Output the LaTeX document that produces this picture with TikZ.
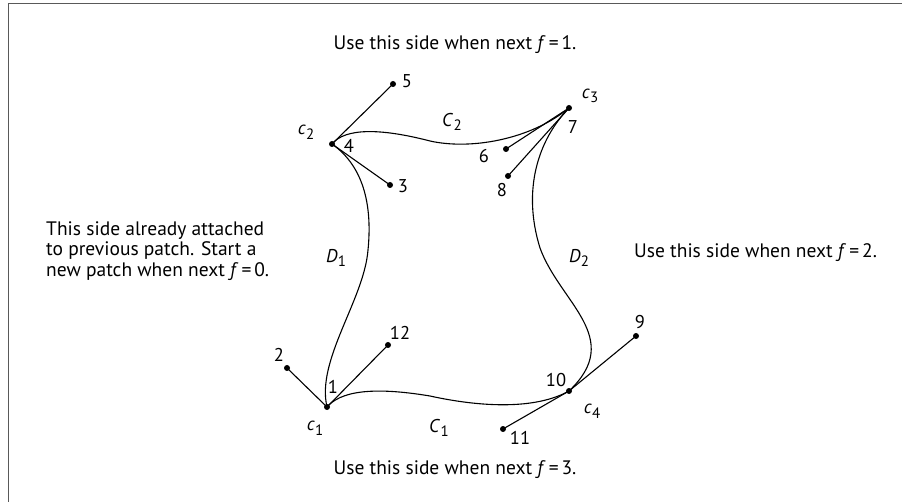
\documentclass[tikz,border=0pt]{standalone}
\usepackage{fontspec}
\setmainfont{PT Sans}
\newcommand{\sublab}[2]{\textit{#1}\kern0.3pt\raisebox{-0.5ex}{\fontsize{15}{15}\selectfont #2}}
\newcommand{\fe}[1]{\textit{f}\kern3pt=\kern3pt#1}
\begin{document}
\begin{tikzpicture}[x=1pt,y=-1pt,
  dot/.style={circle,fill=black,inner sep=0pt,minimum size=6pt},
  lab/.style={font=\fontsize{18.5}{18.5}\selectfont,inner sep=0pt},
  txt/.style={font=\fontsize{19.5}{20.5}\selectfont,inner sep=0pt},
  edge/.style={line width=1.1pt},
  frame/.style={draw=black!65,line width=1.5pt}]
\useasboundingbox (0,0) rectangle (902,502);
\coordinate (ftl) at (8.5,3.5);
\coordinate (ftr) at (902,3.5);
\coordinate (fbl) at (8.5,502);
\draw[frame] (ftr) -- (ftl) -- (fbl);
% points
\node[dot] (p1) at (327,407) {};
\node[dot] (p2) at (287,368) {};
\node[dot] (p12) at (388,345) {};
\node[dot] (p4) at (332,144) {};
\node[dot] (p5) at (393,84) {};
\node[dot] (p3) at (390,185) {};
\node[dot] (p7) at (569,108) {};
\node[dot] (p6) at (506,149) {};
\node[dot] (p8) at (508,176) {};
\node[dot] (p10) at (569,391) {};
\node[dot] (p9) at (636,336) {};
\node[dot] (p11) at (503,429) {};
% straight connectors
\draw[edge] (p1.center) -- (p2.center);
\draw[edge] (p1.center) -- (p12.center);
\draw[edge] (p4.center) -- (p5.center);
\draw[edge] (p4.center) -- (p3.center);
\draw[edge] (p7.center) -- (p6.center);
\draw[edge] (p7.center) -- (p8.center);
\draw[edge] (p11.center) -- (p10.center);
\draw[edge] (p10.center) -- (p9.center);
% curves
\coordinate (c2m) at (430,141);
\draw[edge] (p4.center) .. controls (345,128) and (380,128) .. (c2m)
  .. controls (470,150) and (530,140) .. (p7.center);
\coordinate (d1m) at (368,250);
\draw[edge] (p4.center) .. controls (366,168) and (372,210) .. (d1m)
  .. controls (364,300) and (316,360) .. (p1.center);
\coordinate (d2m) at (540,248);
\draw[edge] (p7.center) .. controls (538,140) and (522,190) .. (d2m)
  .. controls (560,303) and (625,338) .. (p10.center);
\coordinate (c1m) at (430,396);
\draw[edge] (p1.center) .. controls (340,392) and (370,386) .. (c1m)
  .. controls (480,407) and (535,410) .. (p10.center);
% point labels
\node[lab] (l1) at (333,387) {1};
\node[lab] (l2) at (279,355) {2};
\node[lab] (l3) at (403,186) {3};
\node[lab] (l4) at (349,146) {4};
\node[lab] (l5) at (407,81) {5};
\node[lab] (l6) at (484,156) {6};
\node[lab] (l7) at (573,127) {7};
\node[lab] (l8) at (502,190) {8};
\node[lab] (l9) at (640,322) {9};
\node[lab] (l10) at (556,380) {10};
\node[lab] (l11) at (520,438) {11};
\node[lab] (l12) at (400,333) {12};
% corner and side labels
\node[lab] (lc1) at (315,428) {\sublab{c}{1}};
\node[lab] (lc2) at (306,132) {\sublab{c}{2}};
\node[lab] (lc3) at (590,96) {\sublab{c}{3}};
\node[lab] (lc4) at (592,411) {\sublab{c}{4}};
\node[lab] (lC1) at (439,428) {\sublab{C}{1}};
\node[lab] (lC2) at (452,122) {\sublab{C}{2}};
\node[lab] (lD1) at (336,258) {\sublab{D}{1}};
\node[lab] (lD2) at (579,258) {\sublab{D}{2}};
% texts
\node[txt] (ttop) at (455,45) {Use this side when next \fe{1}.};
\node[txt] (tbot) at (455,470) {Use this side when next \fe{3}.};
\node[txt,align=left,anchor=west] (tleft) at (46,251) {This side already attached\\to previous patch. Start a\\new patch when next \fe{0}.};
\node[txt,anchor=west] (tright) at (634,253) {Use this side when next \fe{2}.};
\end{tikzpicture}
\end{document}
